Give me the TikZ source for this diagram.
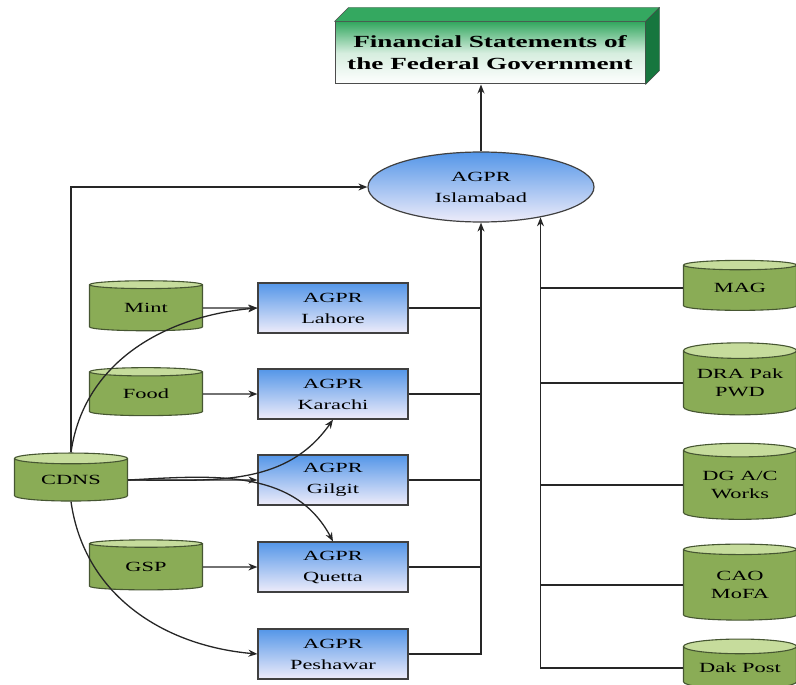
\documentclass[tikz,border=0pt]{standalone}
\usepackage{fontspec}
\setmainfont{Liberation Serif}[FakeStretch=1.6]
\usetikzlibrary{shapes.geometric,shapes.symbols,arrows.meta}

\definecolor{agprblue}{RGB}{84,150,232}
\definecolor{agprpale}{RGB}{238,236,250}
\definecolor{dbgreen}{RGB}{138,172,86}
\definecolor{dbtop}{RGB}{198,220,156}
\definecolor{dbedge}{RGB}{70,86,50}
\definecolor{fingreen}{RGB}{52,168,96}
\definecolor{findark}{RGB}{22,118,62}

\begin{document}
\begin{tikzpicture}[x=1pt,y=1pt,yscale=-1,
    agpr/.style={draw=black!75,line width=1.2pt,top color=agprblue,bottom color=agprpale,
      minimum width=150pt,minimum height=50pt,inner sep=0pt,align=center,
      font=\fontsize{14}{21}\selectfont},
    store/.style={cylinder,shape border rotate=90,aspect=0.18,draw=dbedge,line width=1.1pt,
      cylinder uses custom fill,cylinder body fill=dbgreen,cylinder end fill=dbtop,
      minimum width=113pt,inner sep=0pt,align=center,font=\fontsize{14}{18}\selectfont},
    link/.style={draw=black!85,line width=1.3pt},
    arr/.style={link,-{Stealth[length=9pt,width=7pt]}}]
\useasboundingbox (0,0) rectangle (796,685);

%Financial statements box
\node[draw=black!70,line width=1pt,top color=fingreen,bottom color=white,middle color=white!80!fingreen,
  minimum width=310pt,minimum height=62pt,align=center,
  font=\bfseries\fontsize{17}{22}\selectfont] (fin) at (490,53) {Financial Statements of\\the Federal Government};
\filldraw[draw=black!70,fill=fingreen] (fin.north west) -- ++(14,-14) -- ([shift={(14,-14)}]fin.north east) -- (fin.north east) -- cycle;
\filldraw[draw=black!70,fill=findark] (fin.north east) -- ++(14,-14) -- ([shift={(14,-14)}]fin.south east) -- (fin.south east) -- cycle;

%AGPR Islamabad
\node[ellipse,draw=black!75,line width=1.2pt,top color=agprblue,bottom color=agprpale,
  minimum width=226pt,minimum height=70pt,inner sep=0pt,align=center,
  font=\fontsize{14}{21}\selectfont] (isl) at (481,187) {AGPR\\Islamabad};

%AGPR offices
\node[agpr] (lah) at (333,308) {AGPR\\Lahore};
\node[agpr] (kar) at (333,394) {AGPR\\Karachi};
\node[agpr] (gil) at (333,480) {AGPR\\Gilgit};
\node[agpr] (que) at (333,567) {AGPR\\Quetta};
\node[agpr] (pes) at (333,654) {AGPR\\Peshawar};

%Left data stores
\node[store,minimum height=50pt] (mint) at (146,308) {Mint};
\node[store,minimum height=48pt] (food) at (146,394) {Food};
\node[store,minimum height=48pt] (cdns) at (71,480) {CDNS};
\node[store,minimum height=50pt] (gsp) at (146,567) {GSP};

%Right data stores
\node[store,minimum height=50pt] (mag) at (740,288) {MAG};
\node[store,minimum height=72pt] (dra) at (740,383) {DRA Pak\\PWD};
\node[store,minimum height=76pt] (dgw) at (740,485) {DG A/C\\Works};
\node[store,minimum height=76pt] (cao) at (740,585) {CAO\\MoFA};
\node[store,minimum height=50pt] (dak) at (740,668) {Dak Post};

%Straight Lines
\draw[arr] (isl.north) -- (isl.north |- fin.south);
\draw[arr] (cdns.north) |- (isl.west);
\draw[arr] (mint) -- (lah);
\draw[arr] (food) -- (kar);
\draw[arr] (cdns) -- (gil);
\draw[arr] (gsp) -- (que);

%Curve Lines (angles flipped by yscale=-1)
\draw[arr] (cdns.north) to[out=-82,in=175] (lah.west);
\draw[arr] (cdns.east) to[out=0,in=125] (kar.south);
\draw[arr] (cdns.east) to[out=-3,in=-118] (que.north);
\draw[arr] (cdns.south) to[out=82,in=185] (pes.west);

%Trunks into AGPR Islamabad
\draw[arr] (pes.east) -| (isl.south);
\foreach \o in {lah,kar,gil,que}
  \draw[link] (\o.east) -- (\o.east -| isl.south);
\draw[arr] (dak.west) -| (isl.-27);
\foreach \s in {mag,dra,dgw,cao}
  \draw[link] (\s.west) -- (\s.west -| isl.-27);
\end{tikzpicture}
\end{document}
